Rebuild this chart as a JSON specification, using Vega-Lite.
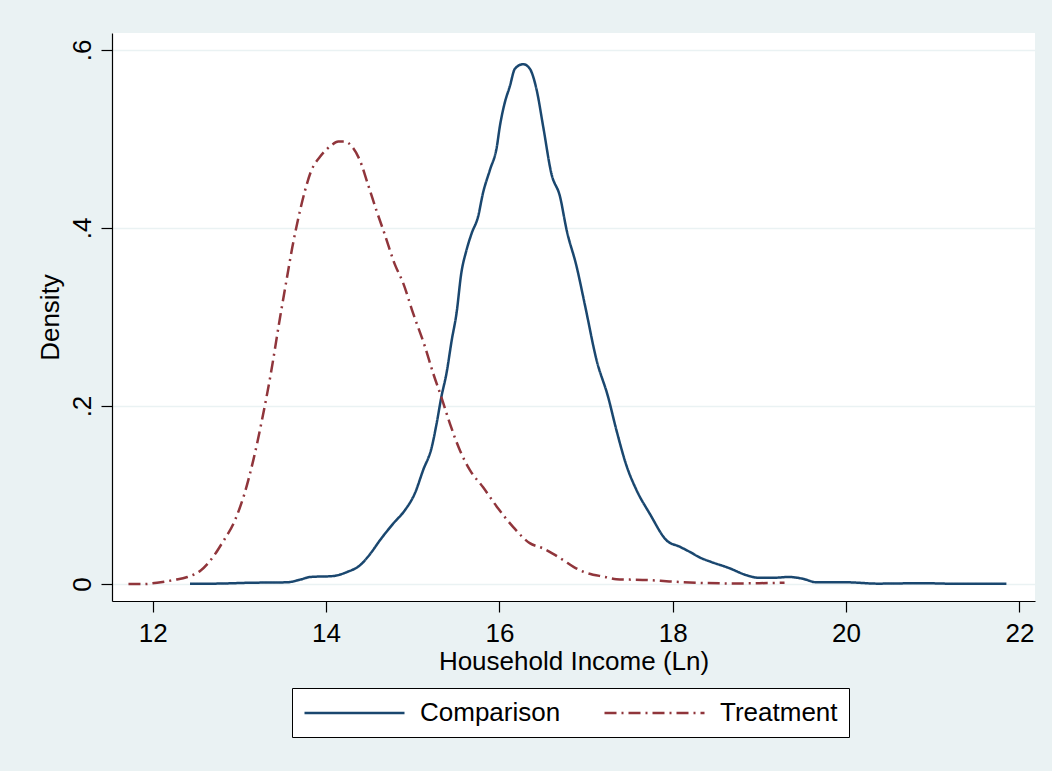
{
  "$schema": "https://vega.github.io/schema/vega-lite/v6.json",
  "autosize": "none",
  "width": 923,
  "height": 568,
  "padding": {"left": 112, "top": 33, "right": 17, "bottom": 170},
  "background": "#EAF2F3",
  "config": {
    "view": {"fill": "white", "stroke": null},
    "font": "Liberation Sans",
    "axis": {
      "domainColor": "black",
      "domainWidth": 1.2,
      "tickColor": "black",
      "tickWidth": 1.2,
      "tickSize": 11,
      "labelFontSize": 26,
      "titleFontSize": 26,
      "titleFontWeight": "normal",
      "labelColor": "black",
      "titleColor": "black"
    },
    "legend": {
      "title": null,
      "orient": "none",
      "legendX": 180,
      "legendY": 655,
      "direction": "horizontal",
      "symbolType": "M-1,0H7",
      "symbolSize": 625,
      "symbolStrokeWidth": 2.5,
      "symbolFillColor": "transparent",
      "labelFontSize": 26,
      "labelColor": "black",
      "labelOffset": 89,
      "columnPadding": 38,
      "padding": 11,
      "strokeColor": "black",
      "fillColor": "white"
    }
  },
  "data": {
    "values": [
      {"x": 12.43, "d": 0.0005, "g": "Comparison"},
      {"x": 12.7, "d": 0.0005, "g": "Comparison"},
      {"x": 13.12, "d": 0.0015, "g": "Comparison"},
      {"x": 13.55, "d": 0.002, "g": "Comparison"},
      {"x": 13.7, "d": 0.005, "g": "Comparison"},
      {"x": 13.82, "d": 0.008, "g": "Comparison"},
      {"x": 14.08, "d": 0.009, "g": "Comparison"},
      {"x": 14.24, "d": 0.0135, "g": "Comparison"},
      {"x": 14.39, "d": 0.021, "g": "Comparison"},
      {"x": 14.51, "d": 0.034, "g": "Comparison"},
      {"x": 14.62, "d": 0.049, "g": "Comparison"},
      {"x": 14.775, "d": 0.068, "g": "Comparison"},
      {"x": 14.91, "d": 0.083, "g": "Comparison"},
      {"x": 15.025, "d": 0.102, "g": "Comparison"},
      {"x": 15.12, "d": 0.128, "g": "Comparison"},
      {"x": 15.22, "d": 0.154, "g": "Comparison"},
      {"x": 15.275, "d": 0.18, "g": "Comparison"},
      {"x": 15.33, "d": 0.21, "g": "Comparison"},
      {"x": 15.39, "d": 0.237, "g": "Comparison"},
      {"x": 15.45, "d": 0.274, "g": "Comparison"},
      {"x": 15.505, "d": 0.304, "g": "Comparison"},
      {"x": 15.56, "d": 0.349, "g": "Comparison"},
      {"x": 15.62, "d": 0.375, "g": "Comparison"},
      {"x": 15.68, "d": 0.394, "g": "Comparison"},
      {"x": 15.755, "d": 0.413, "g": "Comparison"},
      {"x": 15.81, "d": 0.439, "g": "Comparison"},
      {"x": 15.89, "d": 0.465, "g": "Comparison"},
      {"x": 15.97, "d": 0.491, "g": "Comparison"},
      {"x": 16.005, "d": 0.514, "g": "Comparison"},
      {"x": 16.06, "d": 0.54, "g": "Comparison"},
      {"x": 16.12, "d": 0.559, "g": "Comparison"},
      {"x": 16.18, "d": 0.579, "g": "Comparison"},
      {"x": 16.275, "d": 0.584, "g": "Comparison"},
      {"x": 16.35, "d": 0.579, "g": "Comparison"},
      {"x": 16.43, "d": 0.555, "g": "Comparison"},
      {"x": 16.505, "d": 0.514, "g": "Comparison"},
      {"x": 16.6, "d": 0.461, "g": "Comparison"},
      {"x": 16.7, "d": 0.435, "g": "Comparison"},
      {"x": 16.775, "d": 0.398, "g": "Comparison"},
      {"x": 16.89, "d": 0.357, "g": "Comparison"},
      {"x": 16.99, "d": 0.312, "g": "Comparison"},
      {"x": 17.12, "d": 0.252, "g": "Comparison"},
      {"x": 17.255, "d": 0.21, "g": "Comparison"},
      {"x": 17.35, "d": 0.173, "g": "Comparison"},
      {"x": 17.47, "d": 0.132, "g": "Comparison"},
      {"x": 17.58, "d": 0.106, "g": "Comparison"},
      {"x": 17.735, "d": 0.079, "g": "Comparison"},
      {"x": 17.93, "d": 0.049, "g": "Comparison"},
      {"x": 18.08, "d": 0.042, "g": "Comparison"},
      {"x": 18.2, "d": 0.036, "g": "Comparison"},
      {"x": 18.31, "d": 0.03, "g": "Comparison"},
      {"x": 18.44, "d": 0.025, "g": "Comparison"},
      {"x": 18.65, "d": 0.018, "g": "Comparison"},
      {"x": 18.85, "d": 0.01, "g": "Comparison"},
      {"x": 19.0, "d": 0.007, "g": "Comparison"},
      {"x": 19.15, "d": 0.007, "g": "Comparison"},
      {"x": 19.34, "d": 0.008, "g": "Comparison"},
      {"x": 19.5, "d": 0.006, "g": "Comparison"},
      {"x": 19.66, "d": 0.002, "g": "Comparison"},
      {"x": 20.0, "d": 0.002, "g": "Comparison"},
      {"x": 20.37, "d": 0.0005, "g": "Comparison"},
      {"x": 20.87, "d": 0.001, "g": "Comparison"},
      {"x": 21.29, "d": 0.0003, "g": "Comparison"},
      {"x": 21.6, "d": 0.0004, "g": "Comparison"},
      {"x": 21.85, "d": 0.0005, "g": "Comparison"},
      {"x": 11.72, "d": 0.0, "g": "Treatment"},
      {"x": 11.89, "d": 0.0, "g": "Treatment"},
      {"x": 12.05, "d": 0.0015, "g": "Treatment"},
      {"x": 12.24, "d": 0.0045, "g": "Treatment"},
      {"x": 12.4, "d": 0.008, "g": "Treatment"},
      {"x": 12.55, "d": 0.015, "g": "Treatment"},
      {"x": 12.7, "d": 0.031, "g": "Treatment"},
      {"x": 12.8, "d": 0.046, "g": "Treatment"},
      {"x": 12.95, "d": 0.072, "g": "Treatment"},
      {"x": 13.06, "d": 0.102, "g": "Treatment"},
      {"x": 13.16, "d": 0.139, "g": "Treatment"},
      {"x": 13.26, "d": 0.184, "g": "Treatment"},
      {"x": 13.36, "d": 0.235, "g": "Treatment"},
      {"x": 13.47, "d": 0.3, "g": "Treatment"},
      {"x": 13.55, "d": 0.345, "g": "Treatment"},
      {"x": 13.61, "d": 0.378, "g": "Treatment"},
      {"x": 13.68, "d": 0.411, "g": "Treatment"},
      {"x": 13.76, "d": 0.443, "g": "Treatment"},
      {"x": 13.82, "d": 0.462, "g": "Treatment"},
      {"x": 13.93, "d": 0.48, "g": "Treatment"},
      {"x": 14.05, "d": 0.492, "g": "Treatment"},
      {"x": 14.14, "d": 0.497, "g": "Treatment"},
      {"x": 14.22, "d": 0.497, "g": "Treatment"},
      {"x": 14.31, "d": 0.49, "g": "Treatment"},
      {"x": 14.39, "d": 0.476, "g": "Treatment"},
      {"x": 14.48, "d": 0.45, "g": "Treatment"},
      {"x": 14.58, "d": 0.42, "g": "Treatment"},
      {"x": 14.68, "d": 0.392, "g": "Treatment"},
      {"x": 14.79, "d": 0.36, "g": "Treatment"},
      {"x": 14.89, "d": 0.338, "g": "Treatment"},
      {"x": 15.005, "d": 0.304, "g": "Treatment"},
      {"x": 15.14, "d": 0.267, "g": "Treatment"},
      {"x": 15.235, "d": 0.237, "g": "Treatment"},
      {"x": 15.33, "d": 0.21, "g": "Treatment"},
      {"x": 15.43, "d": 0.18, "g": "Treatment"},
      {"x": 15.545, "d": 0.15, "g": "Treatment"},
      {"x": 15.66, "d": 0.128, "g": "Treatment"},
      {"x": 15.81, "d": 0.109, "g": "Treatment"},
      {"x": 15.97, "d": 0.087, "g": "Treatment"},
      {"x": 16.16, "d": 0.064, "g": "Treatment"},
      {"x": 16.35, "d": 0.046, "g": "Treatment"},
      {"x": 16.505, "d": 0.04, "g": "Treatment"},
      {"x": 16.62, "d": 0.034, "g": "Treatment"},
      {"x": 16.735, "d": 0.027, "g": "Treatment"},
      {"x": 16.86, "d": 0.019, "g": "Treatment"},
      {"x": 16.98, "d": 0.0135, "g": "Treatment"},
      {"x": 17.22, "d": 0.008, "g": "Treatment"},
      {"x": 17.35, "d": 0.0055, "g": "Treatment"},
      {"x": 17.72, "d": 0.0045, "g": "Treatment"},
      {"x": 17.96, "d": 0.003, "g": "Treatment"},
      {"x": 18.28, "d": 0.0015, "g": "Treatment"},
      {"x": 18.68, "d": 0.0007, "g": "Treatment"},
      {"x": 19.0, "d": 0.001, "g": "Treatment"},
      {"x": 19.29, "d": 0.0015, "g": "Treatment"}
    ]
  },
  "mark": {"type": "line", "strokeWidth": 2.5, "interpolate": "monotone", "strokeCap": "butt"},
  "encoding": {
    "x": {
      "field": "x",
      "type": "quantitative",
      "scale": {"domain": [11.53, 22.18], "nice": false, "zero": false},
      "axis": {
        "values": [12, 14, 16, 18, 20, 22],
        "title": "Household Income (Ln)",
        "grid": false,
        "labelPadding": 8,
        "titlePadding": 2,
        "labelFlush": false,
        "labelOverlap": false
      }
    },
    "y": {
      "field": "d",
      "type": "quantitative",
      "scale": {"domain": [-0.019, 0.619], "nice": false, "zero": false},
      "axis": {
        "values": [0, 0.2, 0.4, 0.6],
        "labelExpr": "datum.value == 0 ? '0' : '.' + round(datum.value * 10)",
        "title": "Density",
        "grid": true,
        "gridColor": "#EAF2F3",
        "gridWidth": 1.5,
        "labelAngle": 270,
        "labelAlign": "center",
        "labelBaseline": "bottom",
        "labelPadding": 6,
        "titlePadding": 6,
        "labelOverlap": false
      }
    },
    "color": {
      "field": "g",
      "type": "nominal",
      "scale": {"domain": ["Comparison", "Treatment"], "range": ["#1A476F", "#90353B"]},
      "legend": {"title": null}
    },
    "strokeDash": {
      "field": "g",
      "type": "nominal",
      "scale": {"domain": ["Comparison", "Treatment"], "range": [[1, 0], [12, 5, 2, 5]]},
      "legend": {"title": null}
    }
  }
}
